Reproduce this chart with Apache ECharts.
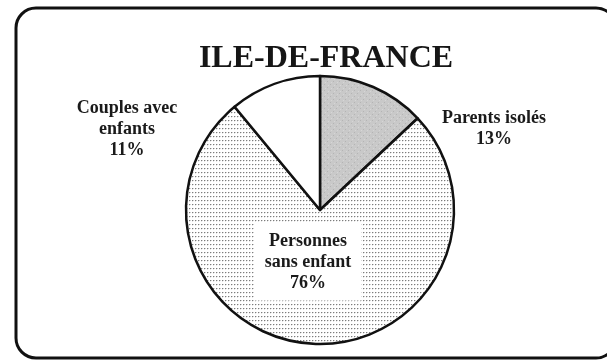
<!DOCTYPE html>
<html>
<head>
<meta charset="utf-8">
<script src="https://cdn.jsdelivr.net/npm/echarts@6/dist/echarts.min.js"></script>
<style>
  html, body { margin: 0; padding: 0; background: #ffffff; }
  #chart { width: 607px; height: 363px; }
</style>
</head>
<body>
<div id="chart"></div>
<script>
// Household types in Ile-de-France (share of households, %)
const chartTitle = 'ILE-DE-FRANCE';
const categories = ['Parents isolés', 'Personnes\nsans enfant', 'Couples avec\nenfants'];
const shares = [13, 76, 11];

// Screen-tone style fills built on small tiles
function makeTile(w, h, bg, dots) {
  const c = document.createElement('canvas');
  c.width = w; c.height = h;
  const ctx = c.getContext('2d');
  ctx.fillStyle = bg;
  ctx.fillRect(0, 0, w, h);
  dots.forEach(d => {
    ctx.fillStyle = d[4];
    ctx.fillRect(d[0], d[1], d[2], d[3]);
  });
  return c;
}
const darkTone = makeTile(6, 6, '#c9c9c9', [
  [0, 0, 1, 1, '#b4b4b4'], [3, 3, 1, 1, '#b4b4b4'], [1, 4, 1, 1, '#d6d6d6'], [4, 1, 1, 1, '#d6d6d6']
]);
const lightTone = makeTile(3, 4, '#ffffff', [
  [0, 0, 1, 1, '#7c7c7c'], [1, 0, 1, 1, '#d2d2d2'], [0, 1, 1, 1, '#e6e6e6']
]);
const fills = [
  { image: darkTone, repeat: 'repeat' },
  { image: lightTone, repeat: 'repeat' },
  '#ffffff'
];

// Label block centres
const labelSpots = [
  { x: 494, y: 129 },
  { x: 308, y: 262 },
  { x: 127, y: 129 }
];

const chart = echarts.init(document.getElementById('chart'), null, { renderer: 'canvas' });

const font = '"Liberation Serif", "Times New Roman", serif';

chart.setOption({
  backgroundColor: '#ffffff',
  animation: false,
  title: {
    text: chartTitle,
    left: 321,
    textAlign: 'center',
    top: 38,
    textStyle: {
      fontFamily: font,
      fontWeight: 'bold',
      fontSize: 32,
      color: '#161616'
    }
  },
  graphic: [{
    type: 'rect',
    shape: { x: 16, y: 8, width: 600, height: 350, r: 20 },
    style: { fill: 'none', stroke: '#111111', lineWidth: 3 },
    z: 10
  }],
  series: [{
    type: 'pie',
    center: [320, 210],
    radius: 134,
    startAngle: 90,
    clockwise: true,
    silent: true,
    data: categories.map((name, i) => ({
      name: name,
      value: shares[i],
      itemStyle: { color: fills[i] },
      label: i === 1 ? {
        backgroundColor: '#ffffff',
        padding: [7, 10, 7, 10]
      } : {}
    })),
    itemStyle: { borderColor: '#111111', borderWidth: 2.5 },
    label: {
      show: true,
      position: 'outside',
      formatter: p => p.name + '\n' + p.value + '%',
      fontFamily: font,
      fontWeight: 'bold',
      fontSize: 18,
      lineHeight: 21,
      color: '#1a1a1a',
      align: 'center'
    },
    labelLine: { show: false },
    labelLayout: params => ({
      x: labelSpots[params.dataIndex].x,
      y: labelSpots[params.dataIndex].y,
      align: 'center',
      verticalAlign: 'middle'
    })
  }]
});
</script>
</body>
</html>
